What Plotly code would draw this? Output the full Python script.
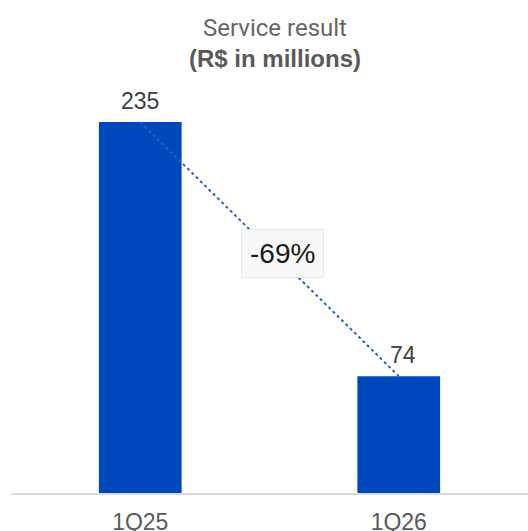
import plotly.graph_objects as go

# Service result by quarter (R$ in millions)
quarters = ["1Q25", "1Q26"]
values = [235, 74]

bar_color = "#0047BB"
trend_color = "#2563C9"

change = values[1] / values[0] - 1
change_label = f"{change * 100:.0f}%"

fig = go.Figure()

# dotted trend line linking the bar tops (drawn beneath the bars)
fig.add_trace(go.Scatter(
    x=quarters, y=values, mode="lines",
    line=dict(color=trend_color, width=2, dash="dot"),
    hoverinfo="skip", showlegend=False,
))

fig.add_trace(go.Bar(
    x=quarters, y=values, marker=dict(color=bar_color, line=dict(width=0)),
    showlegend=False, hoverinfo="skip",
))

# value labels above the bars
for q, v, dx in zip(quarters, values, [0, 4]):
    fig.add_annotation(
        x=q, y=v, text=str(v), showarrow=False, yanchor="bottom", yshift=6, xshift=dx,
        font=dict(family="Liberation Sans, Arial, sans-serif", size=23, color="#404040"),
    )

# percentage change badge on the trend line
fig.add_annotation(
    x=0.55, y=(values[0] + values[1]) / 2, yshift=-4,
    text=change_label, showarrow=False,
    font=dict(family="Liberation Sans, Arial, sans-serif", size=28, color="#1a1a1a"),
    bgcolor="#F8F8F8", bordercolor="#E8E8E8", borderwidth=1, borderpad=8,
)

# two-line title
fig.add_annotation(
    xref="paper", yref="paper", x=0.51, y=1.131, text="Service result",
    showarrow=False, xanchor="center", yanchor="middle",
    font=dict(family="Roboto, sans-serif", size=24, color="#666666"),
)
fig.add_annotation(
    xref="paper", yref="paper", x=0.51, y=1.058, text="<b>(R$ in millions)</b>",
    showarrow=False, xanchor="center", yanchor="middle",
    font=dict(family="Liberation Sans, Arial, sans-serif", size=24, color="#595959"),
)

fig.update_layout(
    width=528, height=531,
    margin=dict(l=11, r=0, t=82, b=38, autoexpand=False),
    paper_bgcolor="white", plot_bgcolor="white",
    bargap=0.68,
    xaxis=dict(
        type="category", showgrid=False, zeroline=False, automargin=False,
        showline=True, linecolor="#D9D9D9", linewidth=2,
        ticks="", ticklabelstandoff=7,
        tickfont=dict(family="Liberation Sans, Arial, sans-serif", size=23, color="#595959"),
    ),
    yaxis=dict(range=[0, 260.3], visible=False, showgrid=False, zeroline=False),
)

fig.write_html("out.html")
